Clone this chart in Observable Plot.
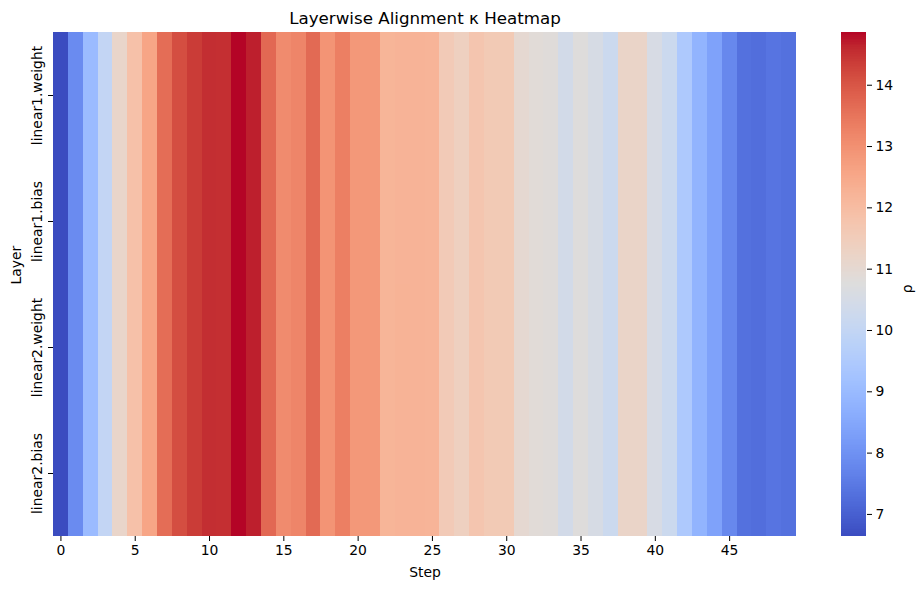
<!DOCTYPE html>
<html>
<head>
<meta charset="utf-8">
<script src="https://cdn.jsdelivr.net/npm/d3@7"></script>
<script src="https://cdn.jsdelivr.net/npm/@observablehq/plot@0.6"></script>
<style>
  body { margin: 0; background: #fff; }
  #wrap { position: relative; width: 923px; height: 590px; overflow: hidden; }
  #wrap svg { position: absolute; top: 0; }
</style>
</head>
<body>
<div id="wrap"></div>
<script>
// ---- data ----
const layers = ["linear1.weight", "linear1.bias", "linear2.weight", "linear2.bias"];
const steps = d3.range(50);
const xTicks = [0, 5, 10, 15, 20, 25, 30, 35, 40, 45];
const cbarTicks = [7, 8, 9, 10, 11, 12, 13, 14];

const linear1Weight = [6.64, 7.87, 9.02, 10.0, 11.16, 11.86, 12.56, 13.63, 14.12, 14.37,
  14.53, 14.52, 14.86, 14.67, 13.7, 13.09, 13.2, 13.67, 12.93, 13.32,
  12.85, 12.85, 12.2, 12.23, 12.23, 12.21, 11.57, 11.37, 11.74, 11.6,
  11.6, 11.0, 10.87, 10.83, 10.42, 10.79, 10.54, 10.22, 11.2, 11.2,
  10.55, 10.22, 9.47, 8.82, 8.37, 7.79, 7.34, 7.27, 7.4, 7.34];
const linear1Bias = [6.64, 7.87, 9.02, 10.0, 11.16, 11.86, 12.56, 13.63, 14.12, 14.37,
  14.53, 14.52, 14.86, 14.67, 13.7, 13.09, 13.2, 13.67, 12.93, 13.32,
  12.85, 12.85, 12.2, 12.23, 12.23, 12.21, 11.57, 11.37, 11.74, 11.6,
  11.6, 11.0, 10.87, 10.83, 10.42, 10.79, 10.54, 10.22, 11.2, 11.2,
  10.55, 10.22, 9.47, 8.82, 8.37, 7.79, 7.34, 7.27, 7.4, 7.34];
const linear2Weight = [6.64, 7.87, 9.02, 10.0, 11.16, 11.86, 12.56, 13.63, 14.12, 14.37,
  14.53, 14.52, 14.86, 14.67, 13.7, 13.09, 13.2, 13.67, 12.93, 13.32,
  12.85, 12.85, 12.2, 12.25, 12.23, 12.21, 11.57, 11.37, 11.74, 11.6,
  11.6, 11.0, 10.87, 10.83, 10.42, 10.79, 10.54, 10.22, 11.2, 11.2,
  10.55, 10.22, 9.47, 8.82, 8.37, 7.79, 7.34, 7.27, 7.4, 7.34];
const linear2Bias = [6.64, 7.87, 9.02, 10.0, 11.16, 11.86, 12.56, 13.63, 14.12, 14.37,
  14.53, 14.52, 14.86, 14.67, 13.7, 13.09, 13.2, 13.67, 12.93, 13.32,
  12.85, 12.85, 12.2, 12.23, 12.23, 12.21, 11.57, 11.37, 11.74, 11.6,
  11.6, 11.0, 10.87, 10.83, 10.42, 10.79, 10.54, 10.22, 11.2, 11.2,
  10.55, 10.22, 9.47, 8.82, 8.37, 7.79, 7.34, 7.27, 7.4, 7.34];

const seriesByLayer = [linear1Weight, linear1Bias, linear2Weight, linear2Bias];
const data = [];
layers.forEach((layer, li) => {
  steps.forEach((s, si) => data.push({layer, step: s, value: seriesByLayer[li][si]}));
});

// ---- colour map (coolwarm, Moreland) ----
const coolwarmStops = [
  [59,76,192],[68,90,204],[77,104,215],[87,117,225],[98,130,234],[108,142,241],[119,154,247],
  [130,165,251],[141,176,254],[152,185,255],[163,194,255],[174,201,253],[184,208,249],
  [194,213,244],[204,217,238],[213,219,230],[221,221,221],[229,216,209],[236,211,197],
  [241,204,185],[245,196,173],[247,187,160],[247,177,148],[247,166,135],[244,154,123],
  [241,141,111],[236,127,99],[229,112,88],[222,96,77],[213,80,66],[203,62,56],[192,40,47],[180,4,38]
].map(([r,g,b]) => `rgb(${r},${g},${b})`);
const coolwarm = d3.piecewise(d3.interpolateRgb, coolwarmStops);

const allVals = data.map(d => d.value);
const vmin = d3.min(allVals), vmax = d3.max(allVals);
const colorSpec = {type: "linear", domain: [vmin, vmax], interpolate: coolwarm};

const font = "'DejaVu Sans', sans-serif";

const main = Plot.plot({
  width: 923, height: 590,
  marginLeft: 53, marginRight: 127, marginTop: 32, marginBottom: 54,
  style: {fontFamily: font, fontSize: "13.9px", background: "transparent", color: "#000"},
  x: {type: "band", domain: steps, padding: 0},
  y: {type: "band", domain: layers, padding: 0},
  color: colorSpec,
  marks: [
    Plot.cell(data, {x: "step", y: "layer", fill: "value", inset: 0, shapeRendering: "crispEdges"}),
    Plot.axisX({ticks: xTicks, tickSize: 5, tickPadding: 4, label: null}),
    Plot.axisY({tickSize: 5, tickFormat: () => "", label: null}),
    Plot.text(layers, {y: d => d, text: d => d, frameAnchor: "left", rotate: -90, textAnchor: "middle", lineAnchor: "middle", dx: -16, fontSize: 13.9}),
    Plot.text(["Step"], {text: d => d, frameAnchor: "bottom", dy: 36, lineAnchor: "middle", fontSize: 13.9}),
    Plot.text(["Layer"], {text: d => d, frameAnchor: "left", dx: -37, rotate: -90, lineAnchor: "middle", fontSize: 13.9}),
    Plot.text(["Layerwise Alignment κ Heatmap"], {text: d => d, frameAnchor: "top", dy: -14, lineAnchor: "middle", fontSize: 16.7})
  ]
});
main.style.left = "0px";

const N = 300;
const bins = d3.range(N).map(i => ({
  y1: vmin + i * (vmax - vmin) / N,
  y2: vmin + (i + 1) * (vmax - vmin) / N,
  v: vmin + (i + 0.5) * (vmax - vmin) / N
}));

const cbar = Plot.plot({
  width: 123, height: 590,
  marginLeft: 41, marginRight: 57, marginTop: 32, marginBottom: 54,
  style: {fontFamily: font, fontSize: "13.9px", background: "transparent", color: "#000"},
  y: {type: "linear", domain: [vmin, vmax]},
  color: colorSpec,
  marks: [
    Plot.rect(bins, {y1: "y1", y2: "y2", fill: "v", shapeRendering: "crispEdges"}),
    Plot.axisY({anchor: "right", ticks: cbarTicks, tickSize: 5, tickPadding: 4, label: null}),
    Plot.text(["ρ"], {text: d => d, frameAnchor: "right", dx: 41, rotate: -90, lineAnchor: "middle", fontSize: 13.9})
  ]
});
cbar.style.left = "800px";

const wrap = document.getElementById("wrap");
wrap.appendChild(main);
wrap.appendChild(cbar);
</script>
</body>
</html>
